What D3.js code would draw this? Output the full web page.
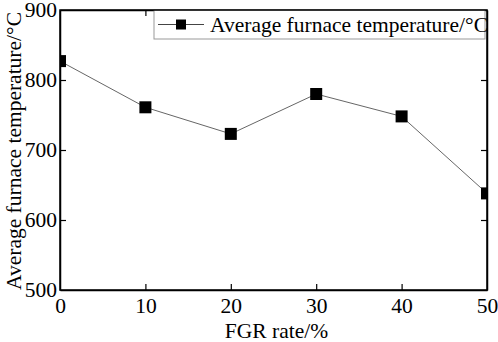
<!DOCTYPE html>
<html>
<head>
<meta charset="utf-8">
<script src="https://cdn.jsdelivr.net/npm/d3@7"></script>
<style>
  body { margin: 0; background: #fff; }
  svg text { font-family: "Liberation Serif", "Times New Roman", serif !important; fill: #000; }
</style>
</head>
<body>
<div id="chart"></div>
<script>
// data
var fgrRate = [0, 10, 20, 30, 40, 50];
var furnaceTemp = [827, 761, 723, 780, 748, 638];
var xTicks = [0, 10, 20, 30, 40, 50];
var yTicks = [500, 600, 700, 800, 900];
var seriesName = "Average furnace temperature/\u00B0C";

var serif = "'Liberation Serif', 'Times New Roman', serif";
var W = 498, H = 342;
var margin = {top: 10, right: 11, bottom: 52, left: 60};
var width = W - margin.left - margin.right,
    height = H - margin.top - margin.bottom;

var svg = d3.select("#chart").append("svg")
  .attr("width", W)
  .attr("height", H)
  .attr("font-family", serif);

var g = svg.append("g")
  .attr("transform", "translate(" + margin.left + "," + margin.top + ")");

var x = d3.scaleLinear().domain([0, 50]).range([0, width]);
var y = d3.scaleLinear().domain([500, 900]).range([height, 0]);

// clip to plot area, the end markers get cut in half
svg.append("defs").append("clipPath").attr("id", "plotclip")
  .append("rect").attr("width", width).attr("height", height);

// axes, ticks pointing inward, mirrored on top/right
var xAxis = d3.axisBottom(x).tickValues(xTicks).tickSizeInner(-6).tickSizeOuter(0).tickPadding(8);
var yAxis = d3.axisLeft(y).tickValues(yTicks).tickSizeInner(-6).tickSizeOuter(0).tickPadding(3);

g.append("g").attr("class", "axis")
  .attr("transform", "translate(0," + height + ")")
  .call(xAxis);
g.append("g").attr("class", "axis").call(yAxis);

g.append("g").attr("class", "axis")
  .call(d3.axisTop(x).tickValues(xTicks).tickSizeInner(-6).tickSizeOuter(0).tickFormat(""));
g.append("g").attr("class", "axis")
  .attr("transform", "translate(" + width + ",0)")
  .call(d3.axisRight(y).tickValues(yTicks).tickSizeInner(-6).tickSizeOuter(0).tickFormat(""));

g.selectAll(".axis").attr("font-family", serif).attr("font-size", 22);
g.selectAll(".axis path").attr("stroke", "#000").attr("stroke-width", 1.5);
g.selectAll(".axis line").attr("stroke", "#000").attr("stroke-width", 1.2);
g.selectAll(".axis text").style("font-size", "21.5px").style("font-family", serif);

// hide end ticks that sit on the frame
g.selectAll(".axis .tick line").filter(function(d) {
  return d === 0 || d === 50 || d === 500 || d === 900;
}).remove();

var pts = fgrRate.map(function(d, i) { return {x: d, y: furnaceTemp[i]}; });

var line = d3.line()
  .x(function(d) { return x(d.x); })
  .y(function(d) { return y(d.y); });

var plot = g.append("g").attr("clip-path", "url(#plotclip)");

plot.append("path")
  .attr("d", line(pts))
  .attr("fill", "none")
  .attr("stroke", "#666")
  .attr("stroke-width", 1);

var sz = 12;
plot.selectAll("rect.mark")
  .data(pts)
  .enter().append("rect")
  .attr("class", "mark")
  .attr("x", function(d) { return x(d.x) - sz / 2; })
  .attr("y", function(d) { return y(d.y) - sz / 2; })
  .attr("width", sz)
  .attr("height", sz)
  .attr("fill", "#000");

// legend
var leg = g.append("g").attr("transform", "translate(94,0)");
leg.append("rect")
  .attr("x", 0).attr("y", 0)
  .attr("width", width - 94 - 2).attr("height", 29)
  .attr("fill", "#fff")
  .attr("stroke", "#999")
  .attr("stroke-width", 1);
leg.append("line")
  .attr("x1", 4).attr("x2", 50).attr("y1", 14.5).attr("y2", 14.5)
  .attr("stroke", "#444").attr("stroke-width", 1);
leg.append("rect")
  .attr("x", 27 - 5).attr("y", 14.5 - 5)
  .attr("width", 10).attr("height", 10)
  .attr("fill", "#000");
leg.append("text")
  .attr("x", 56).attr("y", 21.5)
  .style("font-size", "21.5px")
  .style("font-family", serif)
  .text(seriesName);

// redraw frame on top
g.append("rect")
  .attr("width", width).attr("height", height)
  .attr("fill", "none").attr("stroke", "#000").attr("stroke-width", 1.5);

// axis titles
svg.append("text")
  .attr("x", margin.left + width / 2 + 3)
  .attr("y", 338)
  .attr("text-anchor", "middle")
  .style("font-size", "21.5px")
  .style("font-family", serif)
  .text("FGR rate/%");

svg.append("text")
  .attr("transform", "translate(21," + (margin.top + height / 2 + 1) + ") rotate(-90)")
  .attr("text-anchor", "middle")
  .style("font-size", "21.5px")
  .style("font-family", serif)
  .text(seriesName);
</script>
</body>
</html>
